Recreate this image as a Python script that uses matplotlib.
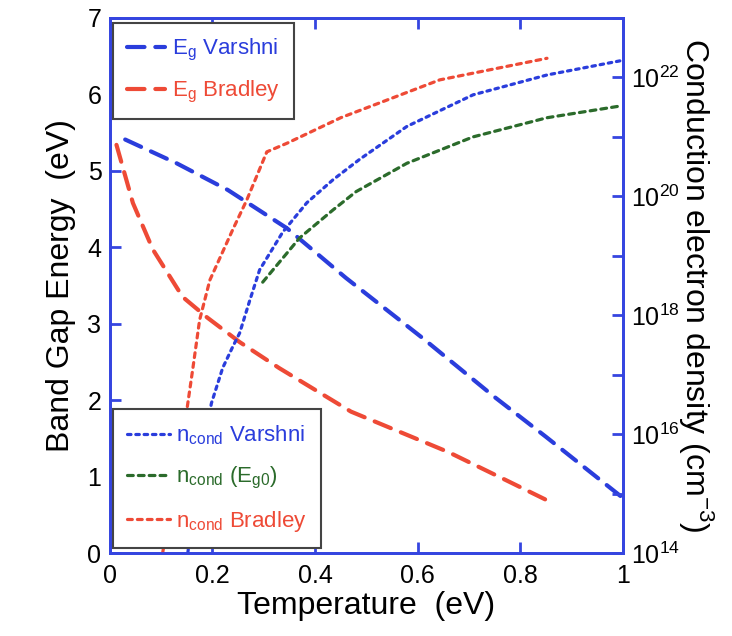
import matplotlib
matplotlib.use("Agg")
import matplotlib.pyplot as plt
import matplotlib.ticker as mticker

plt.rcParams['font.family'] = ['Liberation Sans', 'DejaVu Sans']
plt.rcParams['mathtext.fontset'] = 'custom'
plt.rcParams['mathtext.rm'] = 'Liberation Sans'

# ---- data ----
T_eg_varshni = [0.03, 0.13, 0.23, 0.345, 0.46, 0.61, 0.75, 0.85, 1.0]
Eg_varshni = [5.41, 5.10, 4.75, 4.25, 3.60, 2.81, 2.04, 1.52, 0.72]

T_eg_bradley = [0.013, 0.045, 0.084, 0.142, 0.19, 0.253, 0.33, 0.47, 0.66, 0.77, 0.858]
Eg_bradley = [5.34, 4.58, 3.97, 3.35, 3.08, 2.76, 2.42, 1.85, 1.32, 0.96, 0.67]

T_n_varshni = [0.152, 0.175, 0.198, 0.22, 0.24, 0.253, 0.273, 0.292, 0.337, 0.384,
               0.435, 0.487, 0.579, 0.708, 0.852, 0.994]
n_varshni = [1.0e14, 2.6e15, 3.3e16, 1.3e17, 3.0e17, 5.0e17, 1.8e18, 5.8e18, 2.5e19, 7.8e19,
             1.9e20, 4.2e20, 1.5e21, 5.1e21, 1.1e22, 1.9e22]

T_n_eg0 = [0.298, 0.37, 0.435, 0.48, 0.579, 0.708, 0.852, 0.994]
n_eg0 = [3.6e18, 2.0e19, 5.9e19, 1.2e20, 3.6e20, 1.0e21, 2.1e21, 3.3e21]

T_n_bradley = [0.103, 0.125, 0.15, 0.162, 0.175, 0.195, 0.24, 0.267, 0.306, 0.345,
               0.45, 0.643, 0.852]
n_bradley = [1.0e14, 1.4e15, 2.5e16, 1.3e17, 8.3e17, 3.9e18, 2.8e19, 8.7e19, 5.6e20, 7.8e20,
             2.1e21, 9.1e21, 2.1e22]

x_ticks = [0, 0.2, 0.4, 0.6, 0.8, 1]
x_ticklabels = ['0', '0.2', '0.4', '0.6', '0.8', '1']
y_ticks = [0, 1, 2, 3, 4, 5, 6, 7]
n_major_exps = [14, 16, 18, 20, 22]

# ---- style ----
BLUE = '#2a3ddc'
RED = '#ee4a36'
GREEN = '#2b6b2b'
SPINE = '#3545e0'

fig = plt.figure(figsize=(7.32, 6.36), dpi=100)
ax = fig.add_axes([0.150, 0.1305, 0.701, 0.8412])
ax2 = ax.twinx()

l1, = ax.plot(T_eg_varshni, Eg_varshni, color=BLUE, lw=3.0, dashes=(4.2, 2.6),
              dash_capstyle='round')
l2, = ax.plot(T_eg_bradley, Eg_bradley, color=RED, lw=3.0, dashes=(4.2, 2.6),
              dash_capstyle='round')

ax.set_xlim(0, 1)
ax.set_ylim(0, 7)
ax2.set_yscale('log')
ax2.set_ylim(1e14, 1e23)

l3, = ax2.plot(T_n_varshni, n_varshni, color=BLUE, lw=2.3, dashes=(1.1, 1.5), dash_capstyle='round')
l4, = ax2.plot(T_n_eg0, n_eg0, color=GREEN, lw=2.3, dashes=(1.8, 1.6), dash_capstyle='round')
l5, = ax2.plot(T_n_bradley, n_bradley, color=RED, lw=2.3, dashes=(1.5, 1.6), dash_capstyle='round')

for a in (ax, ax2):
    for s in a.spines.values():
        s.set_color(SPINE)
        s.set_linewidth(2.0)

ax.set_xticks(x_ticks)
ax.set_xticklabels(x_ticklabels)
ax.set_yticks(y_ticks)
ax.tick_params(axis='both', direction='in', length=8, width=2, color=SPINE,
               labelsize=18, top=True, pad=6)
ax.tick_params(axis='x', pad=8)

major = [10.0 ** e for e in n_major_exps]
ax2.set_yticks(major)
ax2.set_yticklabels([r'$\mathregular{10^{%d}}$' % e for e in n_major_exps])
ax2.set_yticks([10.0 ** e for e in range(14, 24) if e not in n_major_exps], minor=True)
ax2.yaxis.set_minor_formatter(mticker.NullFormatter())
ax2.tick_params(axis='y', which='both', direction='in', length=8, width=2, color=SPINE,
                labelsize=18, pad=6)

ax.set_xlabel('Temperature  (eV)', fontsize=23, labelpad=2)
ax.set_ylabel('Band Gap Energy  (eV)', fontsize=23, labelpad=8)
ax2.set_ylabel(r'Conduction electron density (cm$^{\mathregular{-3}}$)', fontsize=23,
               rotation=270, labelpad=26)

leg1 = ax2.legend([l1, l2],
                  [r'E$_\mathregular{g}$ Varshni', r'E$_\mathregular{g}$ Bradley'],
                  loc='upper left', bbox_to_anchor=(0.006, 0.991), borderaxespad=0,
                  fontsize=16, handlelength=1.7, handletextpad=0.3, borderpad=0.65,
                  labelspacing=0.7, fancybox=False, framealpha=1, edgecolor='#444444',
                  labelcolor=[BLUE, RED])
leg1.get_frame().set_linewidth(1.5)
ax2.add_artist(leg1)

leg2 = ax2.legend([l3, l4, l5],
                  [r'n$_\mathregular{cond}$ Varshni', r'n$_\mathregular{cond}$ (E$_\mathregular{g0}$)',
                   r'n$_\mathregular{cond}$ Bradley'],
                  loc='lower left', bbox_to_anchor=(0.006, 0.009), borderaxespad=0,
                  fontsize=16, handlelength=1.9, handletextpad=0.3, borderpad=0.65,
                  labelspacing=0.8, fancybox=False, framealpha=1, edgecolor='#444444',
                  labelcolor=[BLUE, GREEN, RED])
leg2.get_frame().set_linewidth(1.5)

fig.savefig('out.png', dpi=100)
